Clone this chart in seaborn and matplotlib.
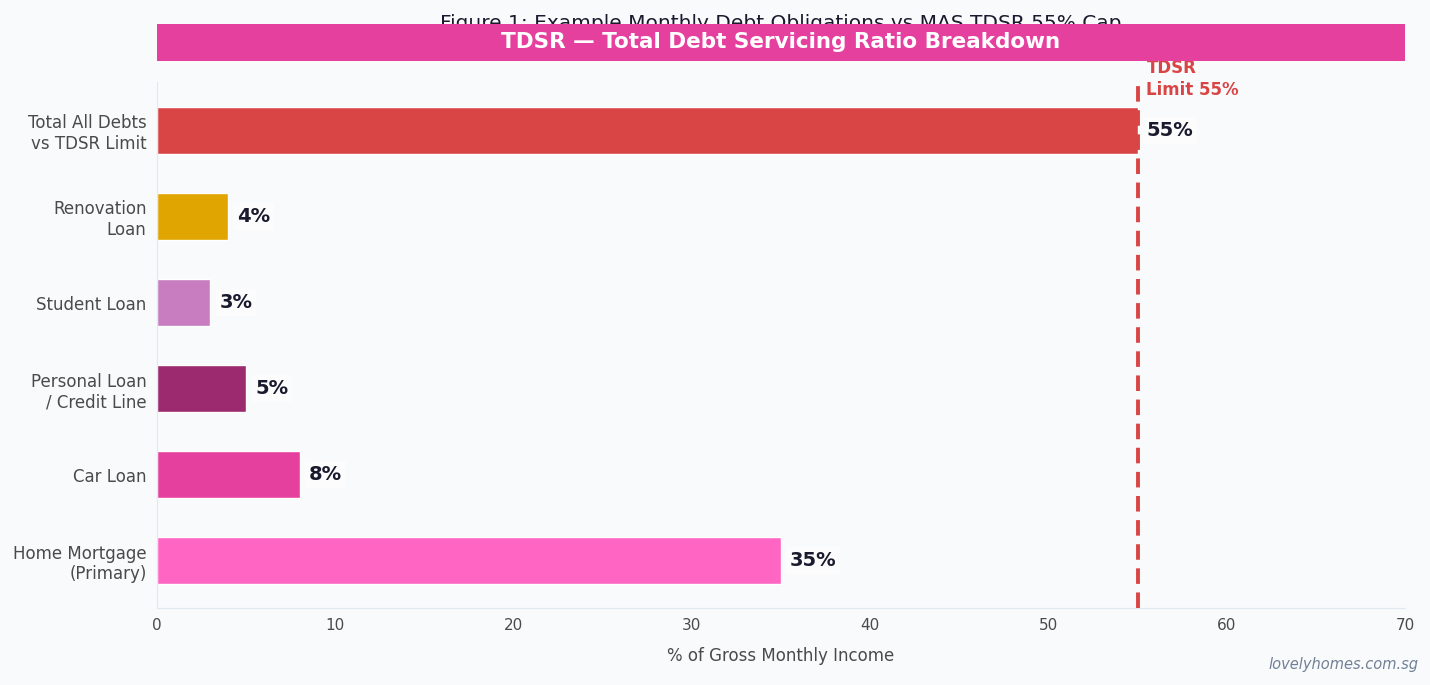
import matplotlib
matplotlib.use("Agg")
import matplotlib.pyplot as plt
import seaborn as sns
import pandas as pd
from matplotlib.patches import Rectangle

# data (top to bottom as drawn)
categories = ["Total All Debts\nvs TDSR Limit", "Renovation\nLoan", "Student Loan",
              "Personal Loan\n/ Credit Line", "Car Loan", "Home Mortgage\n(Primary)"]
values = [55, 4, 3, 5, 8, 35]
colors = ["#d94545", "#e0a500", "#c77dc0", "#9b2a6e", "#e6409f", "#ff66c4"]
tdsr_limit = 55

df = pd.DataFrame({"category": categories, "value": values})

sns.set_style("white")
plt.rcParams["font.family"] = ["DejaVu Sans"]
bg = "#f8fafc"

fig = plt.figure(figsize=(14.3, 6.85), dpi=100, facecolor=bg)
ax = fig.add_axes([0.1098, 0.1124, 0.8727, 0.7676])
ax.set_facecolor(bg)

sns.barplot(data=df, y="category", x="value", hue="category", palette=colors,
            order=categories, legend=False, width=0.54, orient="h", ax=ax,
            saturation=1)

ax.axvline(tdsr_limit, color="#d94545", linestyle=(0, (4, 2.2)), linewidth=2.8, zorder=3)

for i, v in enumerate(values):
    ax.text(v + 0.5, i, f"{v}%", va="center", ha="left", fontsize=14, fontweight="bold",
            color="#1a1a2e", zorder=4,
            bbox=dict(boxstyle="square,pad=0.2", facecolor="white", edgecolor="none", alpha=0.6))

ax.text(tdsr_limit + 0.5, -0.36, "TDSR\nLimit 55%", color="#d94545", fontsize=12,
        fontweight="bold", ha="left", va="bottom", linespacing=1.3, clip_on=False)

ax.set_xlim(0, 70)
ax.set_ylim(5.55, -0.56)
ax.set_xlabel("% of Gross Monthly Income", fontsize=12, color="#4a4a4a", labelpad=10)
ax.set_ylabel("")
ax.tick_params(axis="y", labelsize=12, labelcolor="#4a4a4a", length=4, color="#4a4a4a", width=0.8)
ax.tick_params(axis="x", labelsize=11, labelcolor="#4a4a4a", length=4, color="#cbd5e0")
sns.despine(ax=ax, top=True, right=True)
for s in ["left", "bottom"]:
    ax.spines[s].set_color("#e2e8f0")

# title, partly hidden behind the banner
fig.text(0.5461, 0.965, "Figure 1: Example Monthly Debt Obligations vs MAS TDSR 55% Cap",
         ha="center", va="center", fontsize=14.5, color="#1a1a2e", zorder=1)
fig.patches.append(Rectangle((0.1098, 0.9109), 0.8727, 0.0545, transform=fig.transFigure,
                             facecolor="#e6409f", edgecolor="none", zorder=2))
fig.text(0.5461, 0.9385, "TDSR \u2014 Total Debt Servicing Ratio Breakdown", ha="center",
         va="center", fontsize=15.5, fontweight="bold", color="white", zorder=3)

fig.text(0.992, 0.03, "lovelyhomes.com.sg", ha="right", va="center", fontsize=10.5,
         style="italic", color="#718096")

fig.savefig("out.png", dpi=100, facecolor=bg)
